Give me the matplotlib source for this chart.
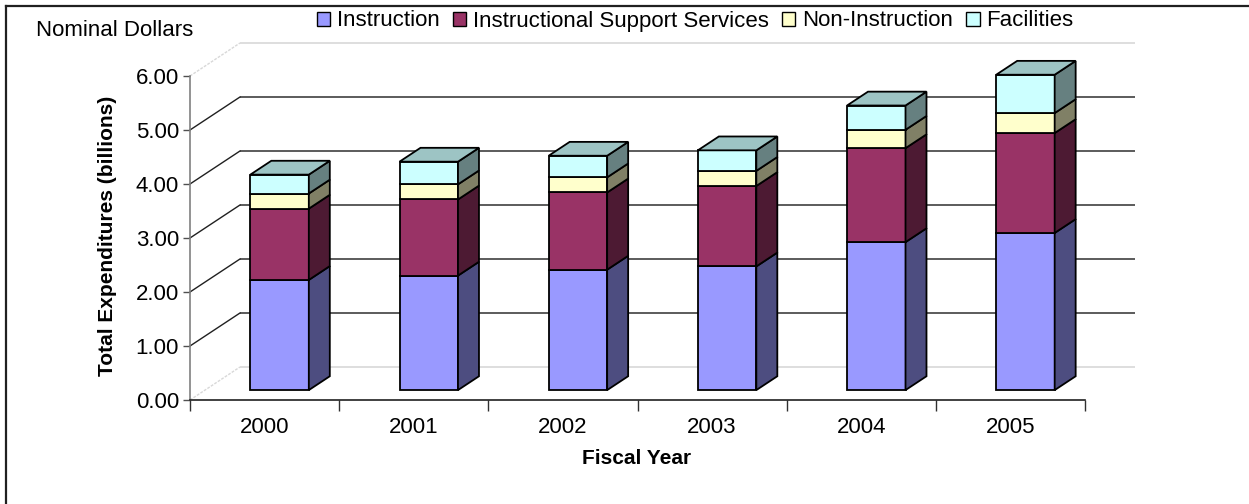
import matplotlib
matplotlib.use("Agg")
import matplotlib.pyplot as plt
import numpy as np
from matplotlib.patches import Polygon, Patch
from matplotlib.lines import Line2D

plt.rcParams['font.family'] = ['Liberation Sans', 'DejaVu Sans']

# ---- data (billions of nominal dollars) ----
years = ["2000", "2001", "2002", "2003", "2004", "2005"]
series_names = ["Instruction", "Instructional Support Services",
                "Non-Instruction", "Facilities"]
instruction = [2.04, 2.12, 2.23, 2.29, 2.74, 2.91]
support = [1.32, 1.41, 1.43, 1.49, 1.74, 1.85]
non_instruction = [0.28, 0.28, 0.28, 0.28, 0.34, 0.37]
facilities = [0.35, 0.42, 0.40, 0.38, 0.45, 0.71]
y_ticks = [0, 1, 2, 3, 4, 5, 6]

front_colors = ["#9999FF", "#993366", "#FFFFCC", "#CCFFFF"]

# ---- figure / axes ----
W, H = 1249, 504
fig = plt.figure(figsize=(W / 100, H / 100), dpi=100)
fig.patch.set_facecolor("white")

# oblique depth of the floor, in data units (categories, values)
DXF, DYF = 0.335, 0.611
ax = fig.add_axes([190 / W, 1 - 400 / H, (1135 - 190) / W, (400 - 43) / H])
ax.set_xlim(-0.5, 5.5 + DXF)
ax.set_ylim(0, 6 + DYF)
ax.set_facecolor("none")

for s in ("top", "right"):
    ax.spines[s].set_visible(False)
ax.spines["left"].set_bounds(0, 6)
ax.spines["left"].set_color("#808080")
ax.spines["left"].set_linewidth(1.2)
ax.spines["bottom"].set_bounds(-0.5, 5.5)
ax.spines["bottom"].set_color("#202020")
ax.spines["bottom"].set_linewidth(1.2)

ax.set_yticks(y_ticks)
ax.set_yticklabels([f"{v:.2f}" for v in y_ticks], fontsize=16)
ax.tick_params(axis="y", direction="out", length=5, width=1, color="#505050", pad=3)

ax.set_xticks(np.arange(-0.5, 6, 1.0))
ax.set_xticklabels([])
ax.set_xticks(np.arange(len(years)), minor=True)
ax.set_xticklabels(years, minor=True, fontsize=16)
ax.tick_params(axis="x", which="major", direction="out", length=8, width=1, color="#303030")
ax.tick_params(axis="x", which="minor", length=0, pad=12)

# ---- walls: back gridlines and side-wall diagonals ----
for v in y_ticks:
    edge = v in (0, 6)
    col = "#D8D8D8" if edge else "#404040"
    ax.plot([-0.5 + DXF, 5.5 + DXF], [v + DYF, v + DYF], color=col,
            lw=1.2, zorder=1, clip_on=False, solid_capstyle="butt")
    ax.plot([-0.5, -0.5 + DXF], [v, v + DYF], color="#D8D8D8" if edge else "#202020",
            lw=1.0, ls=(0, (2, 1)) if edge else "-", zorder=1, clip_on=False)

# ---- 3-D stacked bars ----
def shade(hex_color, k):
    rgb = np.array(matplotlib.colors.to_rgb(hex_color))
    return tuple(rgb * k)

bar_w = 0.392
f0, fd = 0.30, 0.42          # bar front depth and bar depth, as fractions of the floor
ox, oy = f0 * DXF, f0 * DYF
ddx, ddy = fd * DXF, fd * DYF
stack = [instruction, support, non_instruction, facilities]

for i in range(len(years)):
    x0 = i - bar_w / 2 + ox
    x1 = x0 + bar_w
    base = 0.0
    for s, vals in enumerate(stack):
        top = base + vals[i]
        c = front_colors[s]
        front = Polygon([(x0, base + oy), (x1, base + oy), (x1, top + oy), (x0, top + oy)],
                        closed=True, facecolor=c, edgecolor="black", lw=1.3,
                        zorder=3, joinstyle="miter")
        side = Polygon([(x1, base + oy), (x1 + ddx, base + oy + ddy),
                        (x1 + ddx, top + oy + ddy), (x1, top + oy)],
                       closed=True, facecolor=shade(c, 0.5), edgecolor="black", lw=1.3,
                       zorder=3, joinstyle="miter")
        ax.add_patch(front)
        ax.add_patch(side)
        base = top
    cap = Polygon([(x0, base + oy), (x1, base + oy), (x1 + ddx, base + oy + ddy),
                   (x0 + ddx, base + oy + ddy)], closed=True,
                  facecolor=shade(front_colors[-1], 0.77), edgecolor="black", lw=1.3,
                  zorder=3, joinstyle="miter")
    ax.add_patch(cap)

# ---- labels ----
fig.text(108 / W, 1 - 236 / H, "Total Expenditures (billions)", rotation=90,
         ha="center", va="center", fontsize=15, fontweight="bold")
fig.text(637 / W, 1 - 459 / H, "Fiscal Year", ha="center", va="center",
         fontsize=15, fontweight="bold")
fig.text(36 / W, 1 - 30 / H, "Nominal Dollars", ha="left", va="center", fontsize=16)

handles = [Patch(facecolor=c, edgecolor="black", lw=1.0) for c in front_colors]
fig.legend(handles, series_names, loc="center", bbox_to_anchor=(695 / W, 1 - 21 / H),
           ncol=4, frameon=False, fontsize=16, handlelength=0.6, handleheight=0.6,
           handletextpad=0.3, columnspacing=0.6, borderaxespad=0)

# ---- chart border (left and top) ----
fig.add_artist(Line2D([6 / W, 6 / W], [0, 1 - 6 / H], transform=fig.transFigure,
                      color="#202020", lw=1.6))
fig.add_artist(Line2D([6 / W, 1], [1 - 6 / H, 1 - 6 / H], transform=fig.transFigure,
                      color="#202020", lw=1.6))

fig.savefig("out.png", dpi=100, facecolor="white")
